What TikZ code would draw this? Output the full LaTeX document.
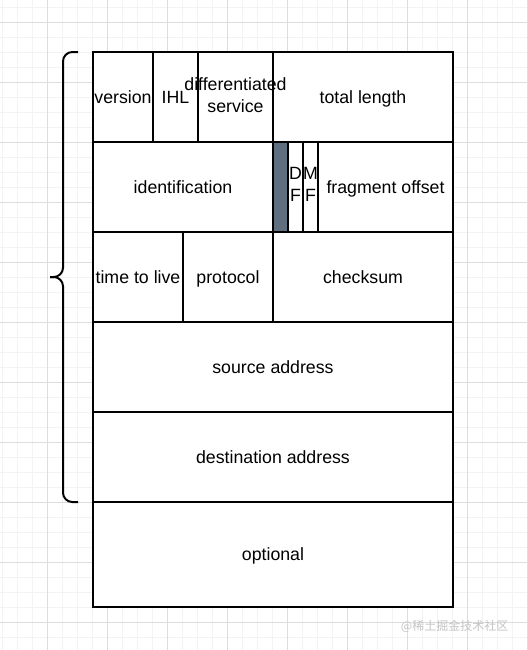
\documentclass[tikz,border=0pt]{standalone}
\usepackage{fontspec}
\setmainfont{Liberation Sans}
\newfontfamily\cjkfont{Noto Sans CJK SC}
\usetikzlibrary{positioning}
\definecolor{GridMinor}{HTML}{F3F3F3}
\definecolor{GridMajor}{HTML}{DDDDDD}
\definecolor{FlagSlate}{HTML}{5F6F7F}
\definecolor{MarkGray}{HTML}{C4C4C4}
\newcommand\cellstrut{\rule[-3.4pt]{0pt}{16.4pt}}

\begin{document}
\begin{tikzpicture}[
  x=0.75pt, y=-0.75pt,
  every node/.style={font=\fontsize{13.3}{16.5}\selectfont},
  cell/.style={draw=black, line width=1.5pt, inner sep=0pt, outer sep=0pt,
    minimum width=#1, minimum height=67.5pt, align=center,
    execute at begin node=\cellstrut, execute at end node=\cellstrut},
  brace/.style={draw=black, line width=1.5pt, rounded corners=7pt}
]
\useasboundingbox (0,0) rectangle (528,650);
\fill[white] (0,0) rectangle (528,650);
% grid
\foreach \x in {2,17,...,527} \draw[GridMinor, line width=0.75pt] (\x,0) -- (\x,650);
\foreach \y in {7,22,...,650} \draw[GridMinor, line width=0.75pt] (0,\y) -- (528,\y);
\foreach \x in {47,107,...,527} \draw[GridMajor, line width=0.75pt] (\x,0) -- (\x,650);
\foreach \y in {22,82,...,650} \draw[GridMajor, line width=0.75pt] (0,\y) -- (528,\y);
\fill[white] (93,52) rectangle (453,607);

% row 1
\node[cell=45pt, anchor=north west] (version) at (93,52) {version};
\node[cell=33.75pt, right=0pt of version] (ihl) {IHL};
\node[cell=56.25pt, right=0pt of ihl] (dscp) {\makebox[0pt]{differentiated}\\service};
\node[cell=135pt, right=0pt of dscp] (totlen) {total length};
% row 2
\node[cell=135pt, anchor=north west] (ident) at (version.south west) {identification};
\node[cell=11.25pt, fill=FlagSlate, right=0pt of ident] (rsv) {};
\node[cell=11.25pt, right=0pt of rsv] (df) {D\\F};
\node[cell=11.25pt, right=0pt of df] (mf) {\makebox[0pt]{M}\\F};
\node[cell=101.25pt, right=0pt of mf] (fragoff) {fragment offset};
% row 3
\node[cell=67.5pt, anchor=north west] (ttl) at (ident.south west) {time to live};
\node[cell=67.5pt, right=0pt of ttl] (proto) {protocol};
\node[cell=135pt, right=0pt of proto] (chksum) {checksum};
% rows 4-6
\node[cell=270pt, anchor=north west] (src) at (ttl.south west) {source address};
\node[cell=270pt, anchor=north west] (dst) at (src.south west) {destination address};
\node[cell=270pt, minimum height=78.75pt, anchor=north west] (opt) at (dst.south west) {optional};

% brace over the fixed header
\draw[brace] (78,52) -- (63,52) -- (63,277) -- (50,277);
\draw[brace] (50,277) -- (63,277) -- (63,502) -- (78,502);

\node[anchor=east, text=MarkGray, font=\cjkfont\fontsize{9}{10}\selectfont] (mark) at (513,626) {@稀土掘金技术社区};
\end{tikzpicture}
\end{document}
